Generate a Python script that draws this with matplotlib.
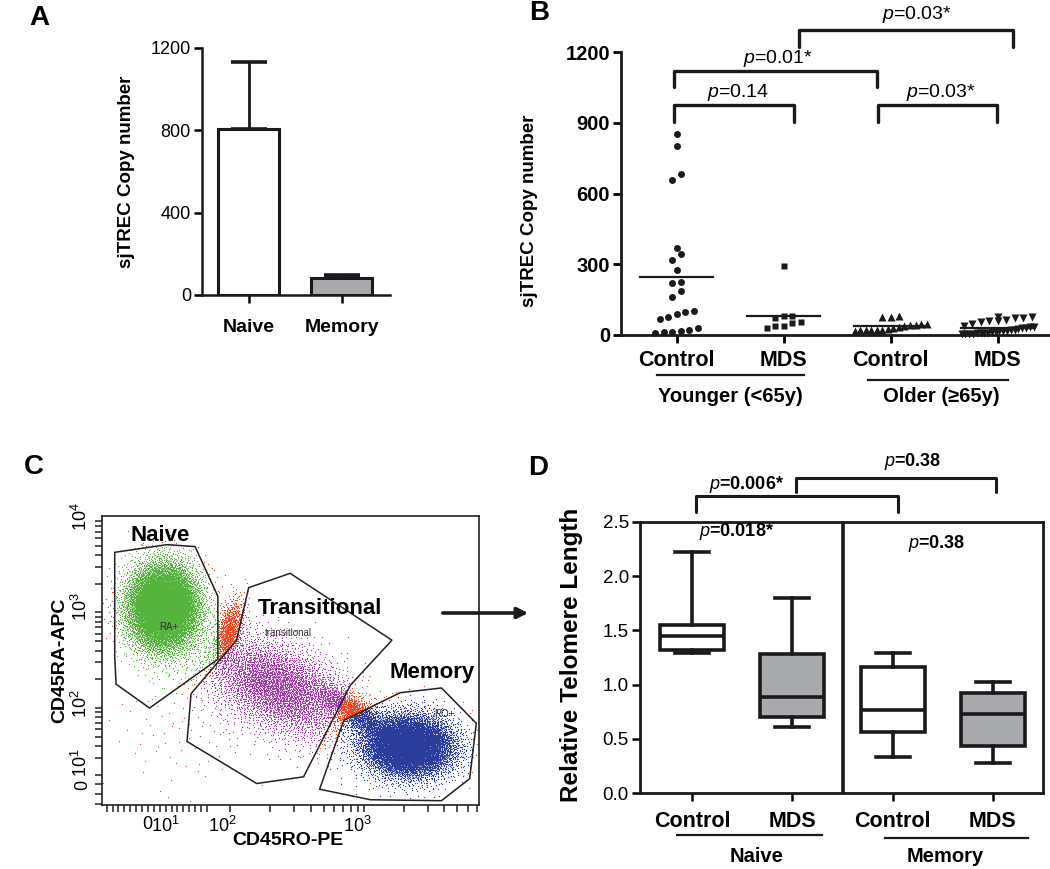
import math
import numpy as np
import matplotlib
matplotlib.use("Agg")
import matplotlib.pyplot as plt
from matplotlib.path import Path

plt.rcParams['font.family'] = ['Liberation Sans', 'DejaVu Sans']
plt.rcParams['mathtext.fontset'] = 'custom'
plt.rcParams['mathtext.rm'] = 'Liberation Sans'
plt.rcParams['mathtext.it'] = 'Liberation Sans:italic'
plt.rcParams['mathtext.bf'] = 'Liberation Sans:bold'

# ---- panel A : sjTREC in sorted cells
a_groups = ['Naive', 'Memory']
a_mean = [805, 81]
a_sem = [325, 15]

# ---- panel B : sjTREC by age / diagnosis
b_groups = ['Control', 'MDS', 'Control', 'MDS']
b_ages = ['Younger (<65y)', 'Older (≥65y)']
young_ctl = [854, 803, 682, 658, 371, 343, 318, 275, 226, 219, 186, 162,
             100, 96, 89, 78, 66, 30, 21, 18, 14, 13, 7]
young_mds = [292, 80, 80, 71, 57, 49, 40, 40, 28]
old_ctl = [82, 78, 77, 48, 46, 44, 42, 40, 36, 30, 25, 23, 22, 21, 20, 20, 19]
old_mds = [78, 76, 72, 70, 62, 60, 58, 55, 45, 40, 35, 33, 30, 28, 25, 22,
           20, 18, 16, 15, 13, 12, 10, 9, 8, 7, 6, 5, 4, 3]
b_pvals = ['0.14', '0.01*', '0.03*', '0.03*']

# ---- panel C : flow gates (axis units = display decades)
gate_naive = [(1.14, 3.63), (1.53, 3.71), (1.74, 3.69), (1.91, 3.17), (1.91, 2.51),
              (1.40, 2.00), (1.15, 2.25), (1.14, 2.54)]
gate_trans = [(2.14, 3.26), (2.45, 3.41), (3.21, 2.71), (2.90, 2.24), (2.55, 1.28),
              (2.20, 1.21), (1.68, 1.65), (1.71, 2.15), (2.05, 2.71)]
gate_memory = [(2.85, 1.87), (3.27, 2.16), (3.58, 2.21), (3.84, 1.84), (3.79, 1.26),
               (3.58, 1.03), (3.05, 1.04), (2.67, 1.15)]
# populations: events, centre x/y, spread x/y, tilt
pop_n = [11000, 4500, 9000, 800, 1300, 120]
pop_cx = [1.50, 2.36, 3.33, 1.99, 2.93, 1.70]
pop_cy = [3.06, 2.22, 1.61, 2.80, 1.95, 1.90]
pop_sx = [0.13, 0.33, 0.17, 0.05, 0.20, 0.30]
pop_sy = [0.22, 0.20, 0.16, 0.18, 0.07, 0.40]
pop_tilt = [0, -44, -20, -10, -45, 0]

# ---- panel D : relative telomere length
d_groups = ['Control', 'MDS', 'Control', 'MDS']
d_cells = ['Naive', 'Memory']
d_med = [1.45, 0.89, 0.77, 0.73]
d_q1 = [1.32, 0.70, 0.56, 0.43]
d_q3 = [1.55, 1.28, 1.16, 0.92]
d_lo = [1.29, 0.61, 0.33, 0.28]
d_hi = [2.22, 1.80, 1.29, 1.02]
d_pvals = ['0.018*', '0.38', '0.006*', '0.38']

INK = '#1a1a1a'
GREY = '#a9aaae'
W, H = 1050, 869
fig = plt.figure(figsize=(W / 100, H / 100), dpi=100)


def add_ax(l, t, r, b):
    return fig.add_axes([l / W, 1 - b / H, (r - l) / W, (b - t) / H])


def prism_style(ax, lw=1.8):
    for s in ['top', 'right']:
        ax.spines[s].set_visible(False)
    for s in ['left', 'bottom']:
        ax.spines[s].set_linewidth(lw)
        ax.spines[s].set_color(INK)


def swarm(ax, vals, x0, d=8.5, h=8.5, half=36):
    # GraphPad-like scatter rows: group close values into rows, spread rows evenly
    p0 = ax.transData.transform((0, 0))
    p1 = ax.transData.transform((1, 1))
    sx, sy = p1[0] - p0[0], p1[1] - p0[1]
    vals = np.sort(np.asarray(vals, float))
    xs = np.zeros(len(vals))
    i = 0
    while i < len(vals):
        j = i
        while j + 1 < len(vals) and (vals[j + 1] - vals[i]) * sy <= h:
            j += 1
        n = j - i + 1
        step = d if n == 1 else min(d, 2 * half / (n - 1))
        xs[i:j + 1] = (np.arange(n) - (n - 1) / 2) * step
        i = j + 1
    return x0 + xs / sx, vals


# ================= A =================
axA = add_ax(202, 48, 390, 295)
xa = np.arange(len(a_groups))
axA.errorbar(xa, a_mean, yerr=[np.zeros(len(xa)), a_sem], fmt='none', ecolor=INK,
             elinewidth=2, capsize=13, capthick=2.6, zorder=2)
axA.bar(xa, a_mean, width=0.65, color=['white', GREY], edgecolor=INK, linewidth=2.2, zorder=3)
axA.set_xlim(-0.5, 1.52)
axA.set_ylim(0, 1200)
axA.set_yticks([0, 400, 800, 1200])
axA.set_xticks(xa)
axA.set_xticklabels(a_groups, fontsize=14, fontweight='bold')
prism_style(axA)
axA.tick_params(axis='y', length=6, width=1.8, labelsize=13, pad=2)
axA.tick_params(axis='x', length=6, width=1.8, pad=11)
axA.set_ylabel('sjTREC Copy number', fontsize=13.5, fontweight='bold')
axA.yaxis.set_label_coords(-0.356, 0.5)

# ================= B =================
axB = add_ax(621, 52, 1050, 335)
axB.set_xlim(-0.52, 3.49)
axB.set_ylim(0, 1200)
prism_style(axB, 2.0)
b_sets = [young_ctl, young_mds, old_ctl, old_mds]
b_marks = [('o', 5), ('s', 5), ('^', 5.5), ('v', 5.5)]
for k, vals in enumerate(b_sets):
    xs, ys = swarm(axB, vals, k)
    axB.plot(xs, ys, linestyle='none', marker=b_marks[k][0], ms=b_marks[k][1],
             mfc=INK, mec='none', clip_on=False, zorder=3)
    axB.plot([k - 0.34, k + 0.34], [np.mean(vals)] * 2, color=INK, lw=1.6, zorder=4)
axB.set_yticks([0, 300, 600, 900, 1200])
axB.set_yticklabels(['0', '300', '600', '900', '1200'], fontweight='bold')
axB.set_xticks(range(4))
axB.set_xticklabels(b_groups, fontsize=15.5, fontweight='bold')
axB.tick_params(axis='y', length=6, width=2, labelsize=14.5, pad=2)
axB.tick_params(axis='x', length=6, width=2, pad=5)
axB.set_ylabel('sjTREC Copy number', fontsize=13.5, fontweight='bold')
axB.yaxis.set_label_coords(-0.193, 0.44)

b_brk = [(-0.02, 1.10, 975, 903), (-0.02, 1.87, 1120, 1051),
         (1.88, 2.99, 975, 903), (1.14, 3.14, 1293, 1221)]
b_ptxt = [(0.57, 1030), (0.95, 1174), (2.47, 1030), (2.25, 1357)]
for (x1, x2, top, lo), (tx, ty), pv in zip(b_brk, b_ptxt, b_pvals):
    axB.plot([x1, x1, x2, x2], [lo, top, top, lo], color=INK, lw=2.4, clip_on=False,
             solid_joinstyle='round', solid_capstyle='round')
    axB.text(tx, ty, f'$p$={pv}', ha='center', va='center', fontsize=14, clip_on=False)

b_under = [(-0.18, 1.19, -170), (1.79, 3.10, -191)]
b_lab = [(0.50, -259), (2.47, -259)]
for (x1, x2, y), (tx, ty), lab in zip(b_under, b_lab, b_ages):
    axB.plot([x1, x2], [y, y], color=INK, lw=1.6, clip_on=False)
    axB.text(tx, ty, lab, ha='center', va='center', fontsize=14.5, fontweight='bold')

# ================= C =================
axC = add_ax(102, 516, 479, 805)
axC.set_xlim(1.045, 3.86)
axC.set_ylim(0.985, 4.01)

# inverse normal CDF by table lookup
z_tab = np.linspace(-5, 5, 4001)
cdf_tab = 0.5 * (1 + np.array([math.erf(z / math.sqrt(2)) for z in z_tab]))


def halton(n, base, start):
    i = np.arange(start, start + n)
    f, r = 1.0, np.zeros(n)
    while np.any(i > 0):
        f /= base
        r += f * (i % base)
        i = i // base
    return r


def qnorm(n, start):
    # deterministic low-discrepancy cloud (Halton 2/3), no random numbers
    u = halton(n, 2, start)
    v = halton(n, 3, start)
    return np.interp(u, cdf_tab, z_tab), np.interp(v, cdf_tab, z_tab)


ev = []
start = 1
for n, cx, cy, sx, sy, t in zip(pop_n, pop_cx, pop_cy, pop_sx, pop_sy, pop_tilt):
    zx, zy = qnorm(n, start)
    start += n + 997
    a = np.deg2rad(t)
    ev.append(np.column_stack([cx + sx * zx * np.cos(a) - sy * zy * np.sin(a),
                               cy + sx * zx * np.sin(a) + sy * zy * np.cos(a)]))
ev = np.vstack(ev)
in_n = Path(gate_naive).contains_points(ev)
in_t = Path(gate_trans).contains_points(ev) & ~in_n
in_m = Path(gate_memory).contains_points(ev) & ~in_n & ~in_t
rest = ~(in_n | in_t | in_m)
for mask, col in [(rest, '#f2461f'), (in_t, '#a03aa8'), (in_m, '#2b3d9c'), (in_n, '#55b33e')]:
    axC.plot(ev[mask, 0], ev[mask, 1], 'o', ms=0.9, mew=0, color=col, zorder=2)
for g in [gate_naive, gate_trans, gate_memory]:
    axC.add_patch(plt.Polygon(g, closed=True, fill=False, ec='#222222', lw=1.1, zorder=4))

axC.text(1.478, 3.81, 'Naive', fontsize=16, fontweight='bold', ha='center', va='center', zorder=5)
axC.text(2.672, 3.047, 'Transitional', fontsize=16, fontweight='bold', ha='center', va='center', zorder=5)
axC.text(3.507, 2.367, 'Memory', fontsize=16, fontweight='bold', ha='center', va='center', zorder=5)
axC.text(1.545, 2.848, 'RA+', fontsize=7, ha='center', va='center', color='#333333', zorder=5)
axC.text(2.433, 2.785, 'transitional', fontsize=7, ha='center', va='center', color='#333333', zorder=5)
axC.text(3.604, 1.937, 'RO+', fontsize=7, ha='center', va='center', color='#333333', zorder=5)

for s in axC.spines.values():
    s.set_linewidth(1.2)
    s.set_color('#222222')
axC.set_xticks([1.38, 1.515, 1.94, 2.955])
axC.set_xticklabels(['0', '$10^1$', '$10^2$', '$10^3$'], fontsize=13)
axC.set_yticks([1.19, 1.43, 2.05, 3.06, 4.0])
axC.set_yticklabels(['0', '$10^1$', '$10^2$', '$10^3$', '$10^4$'], fontsize=13,
                    rotation=90, va='center')
x_minor = list(np.arange(1.08, 1.85, 0.044)) + [2, 3] + \
    [np.log10(k * m) for m in (100, 1000) for k in range(2, 10) if k * m < 7500]
y_minor = [1.0, 1.1, 1.2] + [np.log10(k * m) for m in (10, 100, 1000) for k in range(2, 10)] + [2, 3, 4]
axC.set_xticks(x_minor, minor=True)
axC.set_yticks(y_minor, minor=True)
axC.tick_params(which='major', length=0, pad=8)
axC.tick_params(which='minor', length=5, width=1.1, color='#222222')
axC.set_xlabel('CD45RO-PE', fontsize=14, fontweight='bold')
axC.xaxis.set_label_coords(0.493, -0.095)
axC.set_ylabel('CD45RA-APC', fontsize=14, fontweight='bold')
axC.yaxis.set_label_coords(-0.09, 0.50)

fig.add_artist(matplotlib.patches.FancyArrowPatch(
    (440 / W, 1 - 613 / H), (531 / W, 1 - 613 / H), transform=fig.transFigure,
    arrowstyle='-|>', mutation_scale=16, lw=2.6, color=INK))

# ================= D =================
axD = add_ax(640, 522, 1043, 793)
axD.set_xlim(-0.52, 3.5)
axD.set_ylim(0, 2.5)
stats = [dict(med=m, q1=a, q3=b, whislo=lo, whishi=hi)
         for m, a, b, lo, hi in zip(d_med, d_q1, d_q3, d_lo, d_hi)]
bp = axD.bxp(stats, positions=range(4), widths=0.64, patch_artist=True, showfliers=False,
             capwidths=0.34,
             boxprops=dict(linewidth=2.6, edgecolor=INK),
             medianprops=dict(color=INK, linewidth=2.6),
             whiskerprops=dict(color=INK, linewidth=2.6),
             capprops=dict(color=INK, linewidth=2.6))
for patch, fc in zip(bp['boxes'], ['white', GREY, 'white', GREY]):
    patch.set_facecolor(fc)
axD.plot([1.5, 1.5], [0.02, 2.47], color=INK, lw=2.6)
for s in axD.spines.values():
    s.set_linewidth(2.0)
    s.set_color(INK)
axD.set_yticks([0, 0.5, 1.0, 1.5, 2.0, 2.5])
axD.set_yticklabels(['0.0', '0.5', '1.0', '1.5', '2.0', '2.5'])
axD.set_xticks(range(4))
axD.set_xticklabels(d_groups, fontsize=15.5, fontweight='bold')
axD.tick_params(axis='y', length=6, width=1.8, labelsize=13.5, pad=2)
axD.tick_params(axis='x', length=6, width=1.8, pad=7)
axD.set_ylabel('Relative Telomere Length', fontsize=17.5, fontweight='bold')
axD.yaxis.set_label_coords(-0.142, 0.508)

d_brk = [(0.04, 2.05, 2.737, 2.59), (1.04, 3.03, 2.91, 2.78)]
d_ptxt = [(0.44, 2.41), (2.44, 2.30), (0.54, 2.845), (2.20, 3.06)]
for x1, x2, top, lo in d_brk:
    axD.plot([x1, x1, x2, x2], [lo, top, top, lo], color=INK, lw=2.2, clip_on=False,
             solid_joinstyle='round', solid_capstyle='round')
for (tx, ty), pv in zip(d_ptxt, d_pvals):
    axD.text(tx, ty, f'$p$={pv}', ha='center', va='center', fontsize=13,
             fontweight='bold', clip_on=False)

d_under = [(-0.155, 1.30, -0.39), (1.92, 3.35, -0.415)]
d_lab = [(0.64, -0.59), (2.52, -0.585)]
for (x1, x2, y), (tx, ty), lab in zip(d_under, d_lab, d_cells):
    axD.plot([x1, x2], [y, y], color=INK, lw=1.6, clip_on=False)
    axD.text(tx, ty, lab, ha='center', va='center', fontsize=14.5, fontweight='bold')

# panel letters
for lab, x, y in [('A', 39, 18), ('B', 539, 13), ('C', 34, 467), ('D', 538, 468)]:
    fig.text(x / W, 1 - y / H, lab, fontsize=20, fontweight='bold', ha='center', va='center')

fig.savefig('out.png', dpi=100)
